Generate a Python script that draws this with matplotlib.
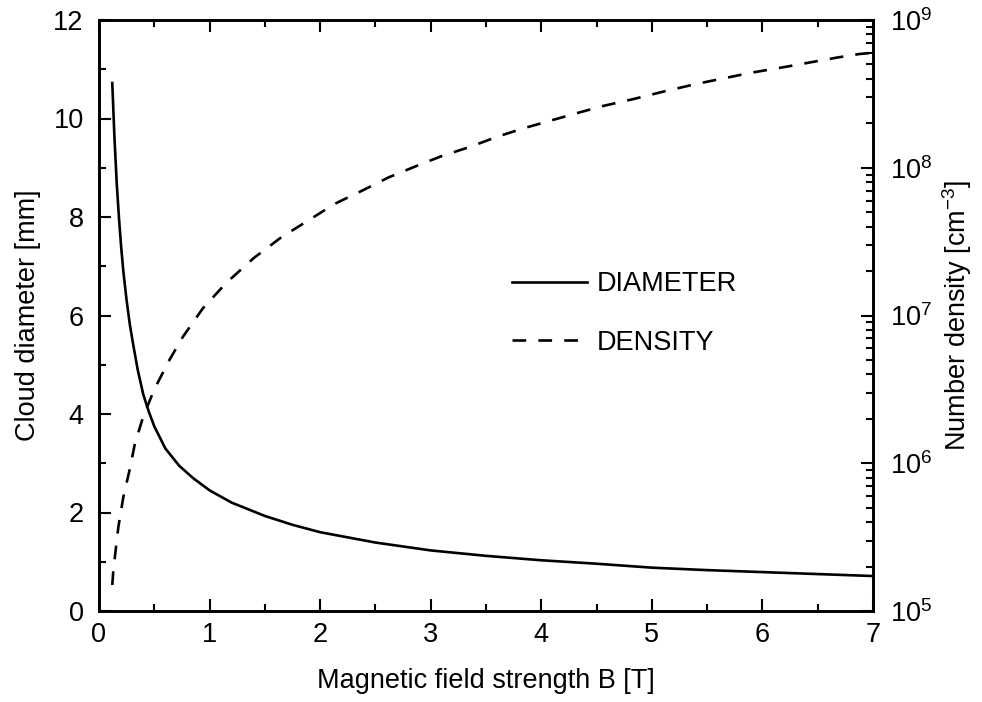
import matplotlib
matplotlib.use('Agg')
import matplotlib.pyplot as plt
import numpy as np
from matplotlib.ticker import MultipleLocator, LogLocator, NullFormatter

plt.rcParams['font.family'] = ['Liberation Sans', 'DejaVu Sans']
plt.rcParams['mathtext.fontset'] = 'custom'
plt.rcParams['mathtext.rm'] = 'Liberation Sans'
plt.rcParams['mathtext.default'] = 'regular'

# diameter curve (mm)
b_diam = [0.12, 0.14, 0.16, 0.18, 0.20, 0.22, 0.25, 0.28, 0.31, 0.35, 0.40, 0.45, 0.50,
          0.60, 0.725, 0.85, 1.0, 1.2, 1.5, 1.75, 2.0, 2.5, 3.0, 3.5, 4.0, 4.5, 5.0,
          5.5, 6.0, 6.5, 7.0]
diameter = [10.72, 9.6, 8.7, 8.0, 7.4, 6.9, 6.3, 5.8, 5.4, 4.9, 4.4, 4.05, 3.75,
            3.3, 2.95, 2.7, 2.45, 2.2, 1.93, 1.75, 1.60, 1.39, 1.23, 1.12, 1.03,
            0.96, 0.88, 0.83, 0.79, 0.75, 0.71]

# density curve (cm^-3)
b_dens = [0.12, 0.13, 0.175, 0.22, 0.275, 0.325, 0.40, 0.50, 0.63, 0.76, 0.94, 1.15,
          1.4, 1.65, 1.9, 2.13, 2.38, 2.62, 2.86, 3.1, 3.35, 3.6, 3.84, 4.08, 4.32,
          4.56, 4.82, 5.1, 5.4, 5.65, 5.9, 6.19, 6.41, 6.67, 6.88, 7.0]
density = [1.5e5, 1.9e5, 3.7e5, 5.9e5, 8.9e5, 1.36e6, 2.07e6, 3.16e6, 4.9e6, 7.2e6,
           1.12e7, 1.66e7, 2.45e7, 3.39e7, 4.43e7, 5.69e7, 7.0e7, 8.61e7, 1.02e8,
           1.2e8, 1.38e8, 1.62e8, 1.85e8, 2.08e8, 2.34e8, 2.62e8, 2.9e8, 3.27e8,
           3.69e8, 4.03e8, 4.4e8, 4.79e8, 5.13e8, 5.56e8, 5.89e8, 6.0e8]

fs = 19.5

fig = plt.figure(figsize=(9.82, 7.02), dpi=100)
ax = fig.add_axes([99/982, 91/702, 774/982, 591/702])
ax2 = ax.twinx()

l1, = ax.plot(b_diam, diameter, color='black', lw=1.9, label='DIAMETER')
l2, = ax2.plot(b_dens, density, color='black', lw=1.9, linestyle=(0, (5.2, 4.6)),
               label='DENSITY')

ax.set_xlim(0, 7)
ax.set_ylim(0, 12)
ax2.set_yscale('log')
ax2.set_ylim(1e5, 1e9)

ax.xaxis.set_major_locator(MultipleLocator(1))
ax.xaxis.set_minor_locator(MultipleLocator(0.5))
ax.yaxis.set_major_locator(MultipleLocator(2))
ax.yaxis.set_minor_locator(MultipleLocator(1))
ax2.yaxis.set_major_locator(LogLocator(base=10, numticks=10))
ax2.yaxis.set_minor_locator(LogLocator(base=10, subs=np.arange(2, 10), numticks=10))
ax2.yaxis.set_minor_formatter(NullFormatter())

ax.tick_params(axis='x', which='both', direction='in', top=True, width=1.5, pad=8,
               labelsize=fs)
ax.tick_params(axis='y', which='both', direction='in', right=False, width=1.5,
               pad=11, labelsize=fs)
ax.tick_params(which='major', length=8.6)
ax.tick_params(which='minor', length=4.8)
ax2.tick_params(axis='y', which='both', direction='in', width=1.5, pad=12,
                labelsize=fs)
ax2.tick_params(which='major', length=8.6)
ax2.tick_params(which='minor', length=4.8)

for a in (ax, ax2):
    for s in a.spines.values():
        s.set_linewidth(1.9)

ax.set_xlabel('Magnetic field strength B [T]', fontsize=fs, labelpad=14)
ax.set_ylabel('Cloud diameter [mm]', fontsize=fs, labelpad=9)
ax2.set_ylabel(r'Number density [cm$^{-3}$]', fontsize=fs, labelpad=6)

ax.legend(handles=[l1, l2], loc='upper left', bbox_to_anchor=(0.533, 0.575),
          frameon=False, fontsize=fs, handlelength=2.77, handletextpad=0.37,
          labelspacing=1.2, borderpad=0, borderaxespad=0)

fig.savefig('out.png', dpi=100)
